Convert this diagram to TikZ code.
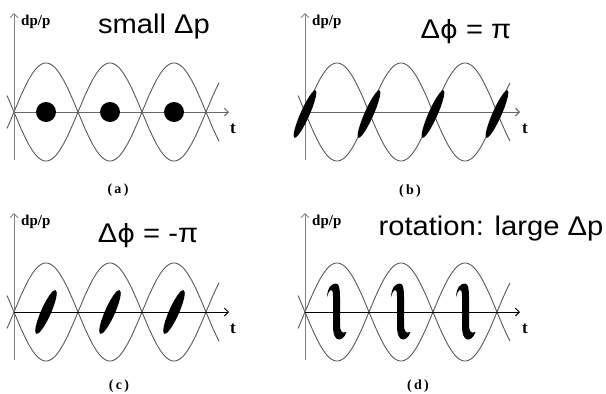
\documentclass[tikz,border=0pt]{standalone}
\usepackage{fontspec}
\usepackage{graphicx}
\setmainfont{Liberation Serif}
\newfontfamily\arialf{Liberation Sans}
\newfontfamily\dejaf{DejaVu Sans}
\usetikzlibrary{arrows.meta}
\newcommand\myphi{{\dejaf\fontsize{25}{25}\selectfont ϕ}}
\newcommand\wavepanel[3]{%
  \draw[curvestyle] plot[domain=-7:205,samples=140] ({#1+\x},{#2-49*sin(2.8125*\x)});
  \draw[curvestyle] plot[domain=-7:205,samples=140] ({#1+\x},{#2+49*sin(2.8125*\x)});
  \draw[vaxis] (#1,#2+48) -- (#1,#2-99);
  \draw[haxis,draw=#3] (#1,#2) -- (#1+215,#2);
}
\newcommand\squiggle[2]{%
  \fill[shift={(#1,#2)}] (-9,-14) .. controls (-8.5,-24) and (-4,-27.5) .. (0,-27.5)
    .. controls (3.5,-27.5) and (4,-21) .. (4,-14)
    -- (4,14)
    .. controls (4,20) and (6,23) .. (10.5,21)
    .. controls (8.5,27) and (5,28.5) .. (3,28.5)
    .. controls (-1.5,28.5) and (-3,22) .. (-3,15)
    -- (-3,-15)
    .. controls (-3,-20) and (-4,-22) .. (-5.5,-21)
    .. controls (-7,-20) and (-8,-17) .. cycle;
}
\begin{document}
\begin{tikzpicture}[x=1pt,y=-1pt,
  curvestyle/.style={draw=black!65, line width=0.9pt},
  vaxis/.style={draw=black!50, line width=1pt, -{Straight Barb[length=4pt,width=8pt]}},
  haxis/.style={line width=1pt, -{Straight Barb[length=4pt,width=8pt]}},
  title/.style={font=\arialf\fontsize{27}{27}\selectfont, anchor=base, inner sep=0pt},
  ylab/.style={font=\bfseries\fontsize{15}{15}\selectfont, anchor=base west, inner sep=0pt},
  tlab/.style={font=\bfseries\fontsize{17}{17}\selectfont, anchor=base, inner sep=0pt},
  caption/.style={font=\bfseries\fontsize{14}{14}\selectfont, anchor=base, inner sep=0pt},
  bunch/.style={fill=black}
]
\useasboundingbox (0,0) rectangle (606,394);
\fill[white] (0,0) rectangle (606,394);

% panel (a)
\wavepanel{14}{112}{black!60}
\foreach \cx in {46,110,174} \fill[bunch] (\cx,112) circle (10pt);
\node[ylab] (ya) at (21,25) {dp/p};
\node[tlab] (ta) at (233,133) {t};
\node[title] (tia) at (154,33) {\scalebox{1.08}[1]{small Δp}};
\node[caption] (ca) at (118,193) {(\,a\,)};

% panel (b)
\wavepanel{305}{112}{black!60}
\foreach \cx in {305,369,433,497}
  \fill[bunch, rotate around={66:(\cx,114)}] (\cx,114) ellipse [x radius=26pt, y radius=4.5pt];
\node[ylab] (yb) at (312,25) {dp/p};
\node[tlab] (tb) at (525,133) {t};
\node[title] (tib) at (466,38) {\scalebox{1.08}[1]{Δ\myphi{} = π}};
\node[caption] (cb) at (410,194) {(\,b\,)};

% panel (c)
\wavepanel{14}{312}{black}
\foreach \cx in {46,110,174}
  \fill[bunch, rotate around={66:(\cx,312)}] (\cx,312) ellipse [x radius=24pt, y radius=5pt];
\node[ylab] (yc) at (21,225) {dp/p};
\node[tlab] (tc) at (233,333) {t};
\node[title] (tic) at (148,242) {\scalebox{1.08}[1]{Δ\myphi{} = -π}};
\node[caption] (cc) at (119,389) {(\,c\,)};

% panel (d)
\wavepanel{305}{312}{black}
\squiggle{336}{311}
\squiggle{400}{311}
\squiggle{465}{311}
\node[ylab] (yd) at (312,225) {dp/p};
\node[tlab] (td) at (525,333) {t};
\node[title] (tid) at (491,235) {\scalebox{1.08}[1]{rotation: large Δp}};
\node[caption] (cd) at (418,389) {(\,d\,)};
\end{tikzpicture}
\end{document}
